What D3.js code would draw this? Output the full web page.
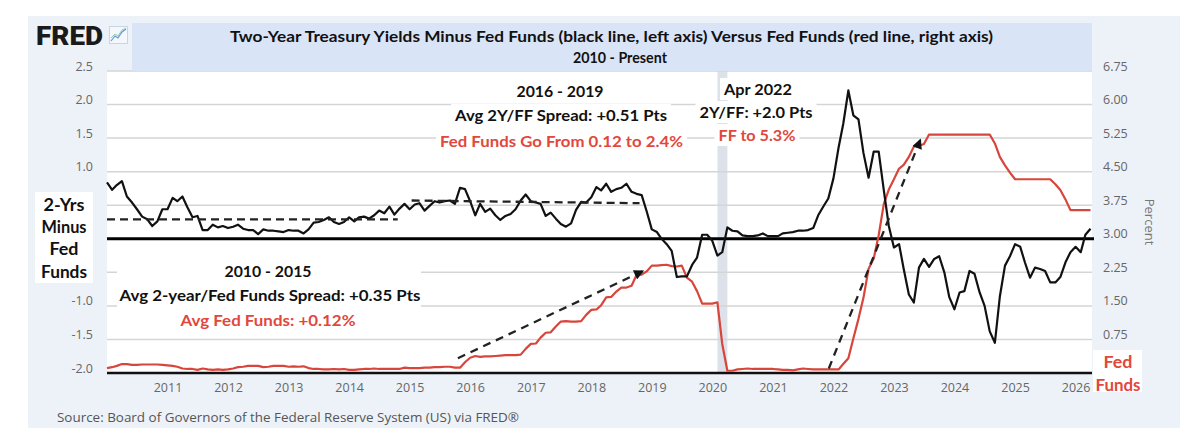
<!DOCTYPE html>
<html>
<head>
<meta charset="utf-8">
<script src="https://cdn.jsdelivr.net/npm/d3@7"></script>
<style>
  body { margin: 0; background: #fff; }
  svg text { font-family: "Open Sans", "Liberation Sans", sans-serif; }
  .note { font-family: Lato, "Open Sans", sans-serif; font-weight: 700; }
</style>
</head>
<body>
<div id="chart"></div>
<script>
// Chart size and plot box
var svgWidth = 1194;
var svgHeight = 436;
var plot = { left: 107, right: 1092, top: 71, bottom: 373 };

// Monthly data, Jan 2010 - Apr 2026
var firstMonth = new Date(2010, 0, 1);
var lastMonth = new Date(2026, 3, 1);

// 2-year Treasury minus Fed Funds (left axis, points)
var spread = [
  0.84, 0.73, 0.80, 0.86, 0.63, 0.54, 0.44, 0.33, 0.29, 0.19, 0.26, 0.44,   // 2010
  0.44, 0.61, 0.56, 0.63, 0.47, 0.32, 0.34, 0.13, 0.13, 0.21, 0.17, 0.19,   // 2011
  0.16, 0.18, 0.21, 0.15, 0.13, 0.13, 0.07, 0.14, 0.12, 0.12, 0.11, 0.10,   // 2012
  0.13, 0.12, 0.12, 0.08, 0.14, 0.24, 0.25, 0.28, 0.32, 0.25, 0.22, 0.25,   // 2013
  0.32, 0.26, 0.32, 0.33, 0.30, 0.35, 0.42, 0.38, 0.48, 0.36, 0.45, 0.52,   // 2014
  0.44, 0.51, 0.53, 0.42, 0.49, 0.56, 0.54, 0.56, 0.57, 0.52, 0.76, 0.74,   // 2015
  0.56, 0.35, 0.52, 0.40, 0.45, 0.35, 0.28, 0.34, 0.37, 0.44, 0.57, 0.66,   // 2016
  0.56, 0.54, 0.52, 0.34, 0.39, 0.30, 0.22, 0.18, 0.23, 0.43, 0.55, 0.54,   // 2017
  0.62, 0.77, 0.72, 0.82, 0.70, 0.74, 0.76, 0.82, 0.70, 0.67, 0.65, 0.41,   // 2018
  0.14, 0.10, 0.00, -0.08, -0.18, -0.57, -0.56, -0.56, -0.39, -0.28, 0.06, 0.06, // 2019
  -0.03, -0.25, -0.20, 0.17, 0.12, 0.11, 0.05, 0.04, 0.04, 0.05, 0.08, 0.04,  // 2020
  0.04, 0.04, 0.08, 0.09, 0.10, 0.12, 0.12, 0.13, 0.16, 0.35, 0.48, 0.60,   // 2021
  0.90, 1.36, 1.71, 2.21, 1.84, 1.78, 1.28, 0.91, 1.30, 1.30, 0.72, 0.19,   // 2022
  -0.13, -0.08, -0.45, -0.83, -0.95, -0.43, -0.30, -0.42, -0.30, -0.26, -0.50, -0.87, // 2023
  -1.05, -0.80, -0.78, -0.48, -0.52, -0.80, -1.00, -1.38, -1.55, -0.86, -0.40, -0.26, // 2024
  -0.08, -0.12, -0.35, -0.58, -0.43, -0.45, -0.48, -0.65, -0.65, -0.57, -0.35, -0.20, // 2025
  -0.12, -0.20, 0.06, 0.15                                                    // 2026
];

// Effective Fed Funds rate (right axis, percent)
var fedFunds = [
  0.11, 0.13, 0.16, 0.20, 0.20, 0.18, 0.18, 0.19, 0.19, 0.19, 0.19, 0.18,   // 2010
  0.17, 0.16, 0.14, 0.10, 0.09, 0.09, 0.07, 0.10, 0.08, 0.07, 0.08, 0.07,   // 2011
  0.08, 0.10, 0.13, 0.14, 0.16, 0.16, 0.16, 0.13, 0.14, 0.16, 0.16, 0.16,   // 2012
  0.14, 0.15, 0.14, 0.15, 0.11, 0.09, 0.09, 0.08, 0.08, 0.09, 0.08, 0.09,   // 2013
  0.07, 0.07, 0.08, 0.09, 0.09, 0.10, 0.09, 0.09, 0.09, 0.09, 0.09, 0.12,   // 2014
  0.11, 0.11, 0.11, 0.12, 0.12, 0.13, 0.13, 0.14, 0.14, 0.12, 0.12, 0.24,   // 2015
  0.34, 0.38, 0.36, 0.37, 0.37, 0.38, 0.39, 0.40, 0.40, 0.40, 0.41, 0.54,   // 2016
  0.65, 0.66, 0.79, 0.90, 0.91, 1.04, 1.15, 1.16, 1.15, 1.15, 1.16, 1.30,   // 2017
  1.41, 1.42, 1.51, 1.69, 1.70, 1.82, 1.91, 1.91, 1.95, 2.19, 2.20, 2.27,   // 2018
  2.40, 2.40, 2.41, 2.42, 2.39, 2.38, 2.40, 2.13, 2.04, 1.83, 1.55, 1.55,   // 2019
  1.55, 1.58, 0.65, 0.05, 0.05, 0.08, 0.09, 0.10, 0.09, 0.09, 0.09, 0.09,   // 2020
  0.09, 0.08, 0.07, 0.07, 0.06, 0.08, 0.10, 0.09, 0.08, 0.08, 0.08, 0.08,   // 2021
  0.08, 0.08, 0.20, 0.33, 0.77, 1.21, 1.68, 2.33, 2.56, 3.08, 3.78, 4.10,   // 2022
  4.33, 4.57, 4.65, 4.83, 5.06, 5.08, 5.12, 5.33, 5.33, 5.33, 5.33, 5.33,   // 2023
  5.33, 5.33, 5.33, 5.33, 5.33, 5.33, 5.33, 5.33, 5.13, 4.83, 4.64, 4.48,   // 2024
  4.33, 4.33, 4.33, 4.33, 4.33, 4.33, 4.33, 4.33, 4.22, 4.09, 3.88, 3.64,   // 2025
  3.64, 3.64, 3.64, 3.64                                                    // 2026
];

// Tick values (gridlines) and the ones that carry a visible label
var leftTicks = [-2.0, -1.5, -1.0, -0.5, 0.0, 0.5, 1.0, 1.5, 2.0, 2.5];
var leftLabels = [-2.0, -1.5, -1.0, 1.0, 1.5, 2.0, 2.5];
var rightLabels = [0.75, 1.5, 2.25, 3.0, 3.75, 4.5, 5.25, 6.0, 6.75];
var yearTicks = [2011, 2012, 2013, 2014, 2015, 2016, 2017, 2018, 2019, 2020, 2021, 2022, 2023, 2024, 2025, 2026];

// Recession shading (COVID)
var recession = [new Date(2020, 1, 1), new Date(2020, 3, 1)];

// Average-spread dashes (left axis) and Fed Funds trend arrows (right axis)
var avgDash2010 = [[new Date(2010, 0, 1), 0.29], [new Date(2014, 9, 21), 0.29]];
var avgDash2016 = [[new Date(2015, 0, 13), 0.57], [new Date(2018, 9, 19), 0.53]];
var ffArrow2016 = [[new Date(2015, 9, 19), 0.33], [new Date(2018, 10, 10), 2.28]];
var ffArrow2022 = [[new Date(2021, 11, 4), 0.10], [new Date(2023, 5, 10), 5.22]];

var months = d3.timeMonth.range(firstMonth, d3.timeMonth.offset(lastMonth, 1));
var series = months.map(function (m, i) {
    return { date: m, spread: spread[i], ff: fedFunds[i] };
});

var svg = d3.select("#chart").append("svg")
    .attr("width", svgWidth)
    .attr("height", svgHeight);

// Scales
var xScale = d3.scaleTime()
    .domain([firstMonth, new Date(2026, 3, 10)])
    .range([plot.left, plot.right]);
var yLeft = d3.scaleLinear().domain([-2, 2.5]).range([plot.bottom, plot.top]);
var yRight = d3.scaleLinear().domain([0, 6.75]).range([plot.bottom, plot.top]);

// Backgrounds
svg.append("rect").attr("x", 28).attr("y", 16).attr("width", 1152).attr("height", 412).attr("fill", "#edf2f9");
svg.append("rect").attr("x", plot.left).attr("y", plot.top)
    .attr("width", plot.right - plot.left).attr("height", plot.bottom - plot.top).attr("fill", "#fff");

// Recession band
svg.append("rect")
    .attr("x", xScale(recession[0]))
    .attr("y", plot.top)
    .attr("width", xScale(recession[1]) - xScale(recession[0]))
    .attr("height", plot.bottom - plot.top)
    .attr("fill", "#dde1e9");

// Gridlines
svg.append("g").selectAll("line")
    .data(leftTicks)
    .enter().append("line")
    .attr("x1", plot.left).attr("x2", plot.right)
    .attr("y1", d => yLeft(d)).attr("y2", d => yLeft(d))
    .attr("stroke", "#d5d5d5").attr("stroke-width", 1.5);

// Title band
svg.append("rect").attr("x", 132).attr("y", 23).attr("width", 960).attr("height", 48).attr("fill", "#dae4f7");
svg.append("text").attr("class", "note")
    .attr("x", 611.5).attr("y", 37).attr("dy", "0.35em")
    .attr("text-anchor", "middle").attr("font-size", 15).attr("fill", "#111")
    .attr("textLength", 763).attr("lengthAdjust", "spacingAndGlyphs")
    .text("Two-Year Treasury Yields Minus Fed Funds (black line, left axis) Versus Fed Funds (red line, right axis)");
svg.append("text").attr("class", "note")
    .attr("x", 620).attr("y", 58).attr("dy", "0.35em")
    .attr("text-anchor", "middle").attr("font-size", 15).attr("fill", "#111")
    .attr("textLength", 94).attr("lengthAdjust", "spacingAndGlyphs")
    .text("2010 - Present");

// FRED logo
svg.append("text")
    .attr("x", 36).attr("y", 45)
    .style("font-family", "Roboto, 'DejaVu Sans', sans-serif")
    .attr("font-weight", 900).attr("font-size", 26).attr("fill", "#1a1a1a")
    .attr("textLength", 67).attr("lengthAdjust", "spacingAndGlyphs")
    .text("FRED");
svg.append("rect").attr("x", 109.5).attr("y", 26.5).attr("width", 18).attr("height", 17)
    .attr("fill", "#f4f7fc").attr("stroke", "#c9d4e6");
svg.append("polyline").attr("points", "111,41 115,36 118,38 122,32 126,29")
    .attr("fill", "none").attr("stroke", "#5b9bd5").attr("stroke-width", 1.2);
svg.append("polyline").attr("points", "111,38 115,34 118,36 122,30 126,28")
    .attr("fill", "none").attr("stroke", "#9fc8a8").attr("stroke-width", 1);

// Axes
var leftAxis = d3.axisLeft(yLeft).tickValues(leftLabels).tickSize(0).tickPadding(14)
    .tickFormat(d => d.toFixed(1));
var rightAxis = d3.axisRight(yRight).tickValues(rightLabels).tickSize(0).tickPadding(11)
    .tickFormat(d => d.toFixed(2));
var bottomAxis = d3.axisBottom(xScale)
    .tickValues(yearTicks.map(y => new Date(y, 0, 1)))
    .tickSize(0).tickPadding(10)
    .tickFormat(d3.timeFormat("%Y"));

[[leftAxis, `translate(${plot.left},0)`], [rightAxis, `translate(${plot.right},0)`]].forEach(function (a) {
    var g = svg.append("g").attr("transform", a[1]).call(a[0]);
    g.select(".domain").remove();
    g.selectAll("text").attr("y", -5).attr("fill", "#666").attr("font-size", 12.5)
        .style("font-family", "'Open Sans', sans-serif");
});
var gx = svg.append("g").attr("transform", `translate(0,${plot.bottom})`).call(bottomAxis);
gx.select(".domain").remove();
gx.selectAll("text").attr("fill", "#666").attr("font-size", 12.5)
    .style("font-family", "'Open Sans', sans-serif");

// Thick zero line and bottom axis line
svg.append("line").attr("x1", plot.left).attr("x2", plot.right + 2)
    .attr("y1", yLeft(0)).attr("y2", yLeft(0))
    .attr("stroke", "#000").attr("stroke-width", 3);
svg.append("line").attr("x1", plot.left).attr("x2", plot.right)
    .attr("y1", plot.bottom).attr("y2", plot.bottom)
    .attr("stroke", "#111").attr("stroke-width", 2.5);

// Percent label
svg.append("text")
    .attr("transform", "translate(1145,222) rotate(90)")
    .attr("text-anchor", "middle").attr("font-size", 13).attr("fill", "#777")
    .text("Percent");

// Series lines
var spreadLine = d3.line().x(d => xScale(d.date)).y(d => yLeft(d.spread));
var ffLine = d3.line().x(d => xScale(d.date)).y(d => yRight(d.ff));

svg.append("path").datum(series)
    .attr("d", ffLine)
    .attr("fill", "none").attr("stroke", "#d8453b").attr("stroke-width", 2.2)
    .attr("stroke-linejoin", "round");
svg.append("path").datum(series)
    .attr("d", spreadLine)
    .attr("fill", "none").attr("stroke", "#111").attr("stroke-width", 2.2)
    .attr("stroke-linejoin", "round");

// Dashed averages
var dashLeft = d3.line().x(d => xScale(d[0])).y(d => yLeft(d[1]));
var dashRight = d3.line().x(d => xScale(d[0])).y(d => yRight(d[1]));

[avgDash2010, avgDash2016].forEach(function (seg) {
    svg.append("path").attr("d", dashLeft(seg))
        .attr("fill", "none").attr("stroke", "#222").attr("stroke-width", 2.3)
        .attr("stroke-dasharray", "8,5");
});

svg.append("defs").append("marker")
    .attr("id", "arrow")
    .attr("viewBox", "0 0 10 10")
    .attr("refX", 9).attr("refY", 5)
    .attr("markerWidth", 11).attr("markerHeight", 10)
    .attr("markerUnits", "userSpaceOnUse")
    .attr("orient", "auto")
    .append("path").attr("d", "M0,0 L10,5 L0,10 Z").attr("fill", "#111");

[ffArrow2016, ffArrow2022].forEach(function (seg) {
    svg.append("path").attr("d", dashRight(seg))
        .attr("fill", "none").attr("stroke", "#222").attr("stroke-width", 2.3)
        .attr("stroke-dasharray", "8,6")
        .attr("marker-end", "url(#arrow)");
});

// Annotation boxes and text
function note(x, y, txt, width, color, size, box) {
    if (box) {
        svg.append("rect").attr("x", x - width / 2 - 4).attr("y", y - 11)
            .attr("width", width + 8).attr("height", 22).attr("fill", "#fff");
    }
    svg.append("text").attr("class", "note")
        .attr("x", x).attr("y", y).attr("dy", "0.35em")
        .attr("text-anchor", "middle")
        .attr("font-size", size || 16)
        .attr("fill", color || "#111")
        .attr("textLength", width).attr("lengthAdjust", "spacingAndGlyphs")
        .text(txt);
}

var red = "#e2473c";

note(560, 91, "2016 - 2019", 87, "#111", 16, true);
note(561, 115, "Avg 2Y/FF Spread: +0.51 Pts", 212, "#111", 16, true);
note(561.5, 141, "Fed Funds Go From 0.12 to 2.4%", 243, red, 16, true);

note(758, 89, "Apr 2022", 68, "#111", 16, true);
note(756, 112, "2Y/FF: +2.0 Pts", 113, "#111", 16, true);
note(757, 135, "FF to 5.3%", 77, red, 16, true);

svg.append("rect").attr("x", 117).attr("y", 258).attr("width", 304).attr("height", 74).attr("fill", "#fff");
note(268, 271, "2010 - 2015", 87, "#111", 16, false);
note(270, 295, "Avg 2-year/Fed Funds Spread: +0.35 Pts", 301, "#111", 16, false);
note(268, 320, "Avg Fed Funds: +0.12%", 175, red, 16, false);

// Left axis caption box
svg.append("rect").attr("x", 35).attr("y", 192).attr("width", 58).attr("height", 91).attr("fill", "#fff");
note(64, 205, "2-Yrs", 41, "#111", 16.5, false);
note(64, 227, "Minus", 45, "#111", 16.5, false);
note(64, 249, "Fed", 29, "#111", 16.5, false);
note(64, 272, "Funds", 46, "#111", 16.5, false);

// Right axis caption box
svg.append("rect").attr("x", 1093).attr("y", 350).attr("width", 49).attr("height", 42).attr("fill", "#fff");
note(1118, 362, "Fed", 29, red, 17, false);
note(1118, 385, "Funds", 45, red, 17, false);

// Source
svg.append("text")
    .attr("x", 57).attr("y", 417).attr("dy", "0.35em")
    .attr("font-size", 13).attr("fill", "#555")
    .attr("textLength", 462).attr("lengthAdjust", "spacingAndGlyphs")
    .text("Source: Board of Governors of the Federal Reserve System (US) via FRED®");
</script>
</body>
</html>
